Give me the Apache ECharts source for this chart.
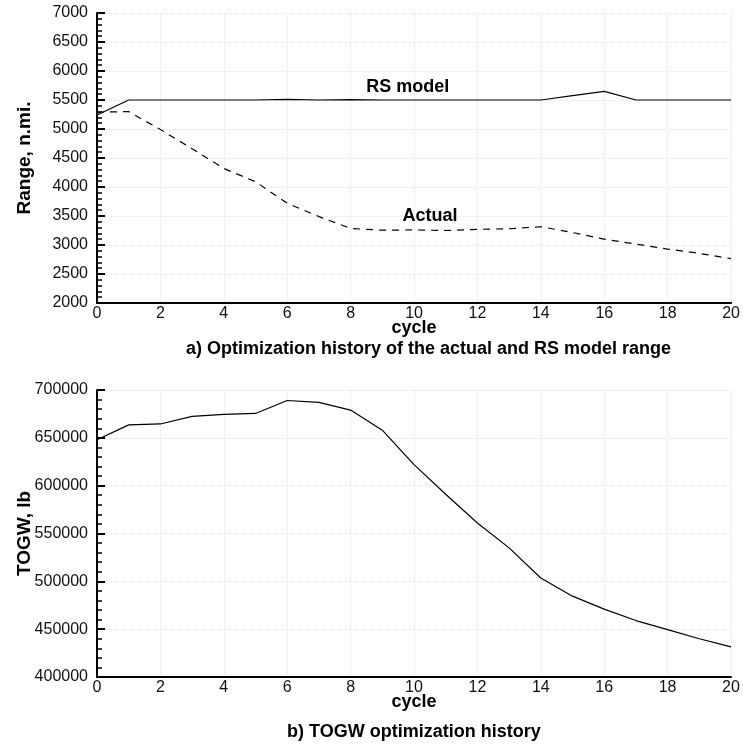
<!DOCTYPE html>
<html>
<head>
<meta charset="utf-8">
<script src="https://cdn.jsdelivr.net/npm/echarts@6/dist/echarts.min.js"></script>
<style>
  html, body { margin: 0; padding: 0; background: #fff; }
  #main { width: 743px; height: 745px; }
</style>
</head>
<body>
<div id="main"></div>
<script>
// cycle numbers shared by both panels
const cycles = [0, 1, 2, 3, 4, 5, 6, 7, 8, 9, 10, 11, 12, 13, 14, 15, 16, 17, 18, 19, 20];
// a) range, n.mi.
const rsModel = [5240, 5500, 5500, 5500, 5500, 5500, 5510, 5500, 5505, 5500, 5500, 5500, 5500, 5500, 5500, 5575, 5650, 5500, 5500, 5500, 5500];
const actual = [5290, 5300, 4990, 4660, 4320, 4090, 3720, 3490, 3285, 3255, 3260, 3250, 3270, 3280, 3315, 3215, 3100, 3015, 2930, 2855, 2765];
// b) TOGW, lb
const togw = [648000, 663500, 664500, 672500, 674500, 675500, 689000, 687000, 679000, 658000, 622000, 591000, 561000, 535000, 503500, 484500, 471000, 459000, 449500, 440000, 431500];

const font = 'Liberation Sans, Arial, Helvetica, sans-serif';

function pairs(ys) {
  return cycles.map((c, i) => [c, ys[i]]);
}

function xAxisOpt(gridIndex) {
  return {
    type: 'value', gridIndex: gridIndex,
    min: 0, max: 20, interval: 2,
    name: 'cycle', nameLocation: 'middle', nameGap: 16, nameMoveOverlap: false,
    nameTextStyle: { fontFamily: font, fontWeight: 'bold', fontSize: 18, color: '#000' },
    axisLine: { lineStyle: { color: '#000', width: 2 } },
    axisTick: { show: false },
    axisLabel: { fontFamily: font, fontSize: 16, color: '#111', margin: 3, formatter: v => String(v) },
    splitLine: { show: true, lineStyle: { color: '#e4e4e4', type: 'dotted', width: 1 } }
  };
}

function yAxisOpt(gridIndex, name, min, max, interval) {
  return {
    type: 'value', gridIndex: gridIndex,
    min: min, max: max, interval: interval,
    name: name, nameLocation: 'middle', nameGap: 63, nameMoveOverlap: false,
    nameTextStyle: { fontFamily: font, fontWeight: 'bold', fontSize: 19, color: '#000' },
    axisLine: { show: true, lineStyle: { color: '#000', width: 2 } },
    axisTick: { show: true, inside: true, length: 8, lineStyle: { color: '#000', width: 2 } },
    minorTick: { show: true, splitNumber: 5, length: 5, lineStyle: { color: '#000', width: 1.5 } },
    axisLabel: { fontFamily: font, fontSize: 16, color: '#111', margin: 9, formatter: v => String(v) },
    splitLine: { show: true, lineStyle: { color: '#e4e4e4', type: 'dotted', width: 1 } }
  };
}

function tag(text, x, y) {
  return {
    symbol: 'circle', symbolSize: 0,
    data: [{ coord: [x, y], value: text }],
    label: {
      show: true, position: 'inside', formatter: text,
      fontFamily: font, fontWeight: 'bold', fontSize: 18, color: '#000'
    }
  };
}

const chart = echarts.init(document.getElementById('main'));
chart.setOption({
  animation: false,
  backgroundColor: '#fff',
  grid: [
    { left: 97, top: 13, width: 640, height: 290 },
    { left: 97, top: 390, width: 634, height: 287 }
  ],
  xAxis: [xAxisOpt(0), xAxisOpt(1)],
  yAxis: [
    yAxisOpt(0, 'Range, n.mi.', 2000, 7000, 500),
    yAxisOpt(1, 'TOGW, lb', 400000, 700000, 50000)
  ],
  graphic: [
    {
      type: 'text', left: 186, top: 340,
      style: { text: 'a) Optimization history of the actual and RS model range', font: 'bold 18px ' + font, fill: '#000' }
    },
    {
      type: 'text', left: 287, top: 723,
      style: { text: 'b) TOGW optimization history', font: 'bold 18px ' + font, fill: '#000' }
    }
  ],
  series: [
    {
      name: 'RS model', type: 'line', xAxisIndex: 0, yAxisIndex: 0,
      data: pairs(rsModel), showSymbol: false,
      lineStyle: { color: '#000', width: 1.2 },
      markPoint: tag('RS model', 9.8, 5720)
    },
    {
      name: 'Actual', type: 'line', xAxisIndex: 0, yAxisIndex: 0,
      data: pairs(actual), showSymbol: false,
      lineStyle: { color: '#000', width: 1.2, type: [7, 6] },
      markPoint: tag('Actual', 10.5, 3500)
    },
    {
      name: 'TOGW', type: 'line', xAxisIndex: 1, yAxisIndex: 1,
      data: pairs(togw), showSymbol: false,
      lineStyle: { color: '#000', width: 1.2 }
    }
  ]
});
</script>
</body>
</html>
